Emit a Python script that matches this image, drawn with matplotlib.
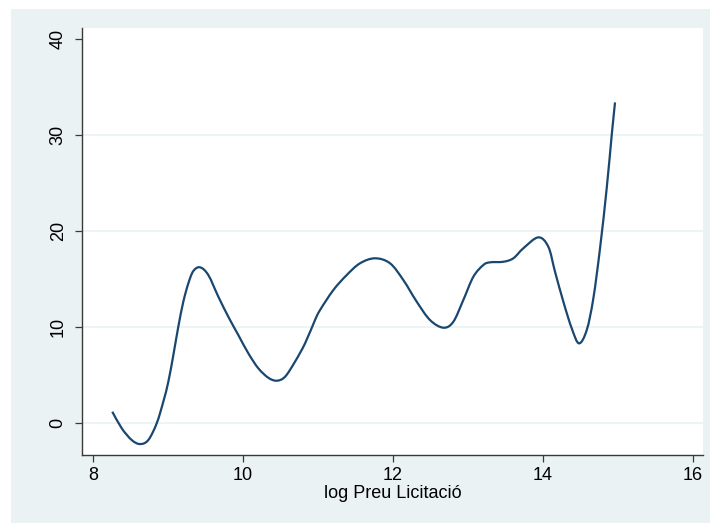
import matplotlib
matplotlib.use("Agg")
import matplotlib.pyplot as plt
from matplotlib.patches import Rectangle, PathPatch
from matplotlib.path import Path

# Data
x_vals = [8.257, 8.383, 8.516, 8.627, 8.737, 8.849, 8.937, 9.004, 9.071, 9.137,
          9.204, 9.271, 9.337, 9.427, 9.537, 9.671, 9.804, 9.937, 10.071, 10.204,
          10.337, 10.449, 10.56, 10.693, 10.827, 10.96, 11.027, 11.204, 11.383,
          11.56, 11.76, 11.96, 12.137, 12.316, 12.493, 12.671, 12.804, 12.937,
          13.071, 13.204, 13.293, 13.471, 13.604, 13.737, 13.937, 14.071, 14.16,
          14.271, 14.383, 14.48, 14.583, 14.671, 14.76, 14.849, 14.916, 14.96]
y_vals = [1.18, -0.55, -1.77, -2.19, -1.77, -0.03, 2.22, 4.30, 7.08, 10.03,
          12.64, 14.55, 15.83, 16.22, 15.42, 13.16, 11.07, 9.17, 7.26, 5.70,
          4.72, 4.41, 4.82, 6.39, 8.30, 10.73, 11.77, 13.85, 15.42,
          16.64, 17.16, 16.64, 14.90, 12.64, 10.73, 9.93, 10.55, 12.81,
          15.24, 16.46, 16.74, 16.80, 17.16, 18.20, 19.34, 18.36, 15.76,
          12.64, 9.86, 8.30, 9.69, 12.99, 18.20, 24.45, 30.0, 33.4]

x_ticks = [8, 10, 12, 14, 16]
y_ticks = [0, 10, 20, 30, 40]
grid_levels = [0, 10, 20, 30]
x_label = "log Preu Licitació"

W, H = 710, 523
bg = "#EAF2F3"
line_c = "#1A476F"
axis_c = "#3a3a3a"

plt.rcParams['font.family'] = ['Liberation Sans', 'DejaVu Sans']

fig = plt.figure(figsize=(W / 100, H / 100), dpi=100, facecolor="white")
fig.add_artist(Rectangle((11 / W, -0.01), (W - 11) / W + 0.01, (H - 9) / H + 0.01,
                         transform=fig.transFigure, facecolor=bg,
                         edgecolor="none", zorder=-5))

left, right, top, bottom = 82, 703, 28, 455
ax = fig.add_axes([left / W, (H - bottom) / H, (right - left) / W, (bottom - top) / H])
ax.set_zorder(1)
ax.set_facecolor("white")

ax.set_xlim(7.853, 16.133)
ax.set_ylim(-3.33, 41.15)

for g in grid_levels:
    ax.axhline(g, color=bg, lw=1.2, zorder=1)

# Smooth curve through the read points (Catmull-Rom rendered as cubic Beziers)
pts = list(zip(x_vals, y_vals))
verts = [pts[0]]
codes = [Path.MOVETO]
n = len(pts)
for i in range(n - 1):
    p0 = pts[i - 1] if i > 0 else pts[i]
    p1 = pts[i]
    p2 = pts[i + 1]
    p3 = pts[i + 2] if i + 2 < n else pts[i + 1]
    c1 = (p1[0] + (p2[0] - p0[0]) / 6, p1[1] + (p2[1] - p0[1]) / 6)
    c2 = (p2[0] - (p3[0] - p1[0]) / 6, p2[1] - (p3[1] - p1[1]) / 6)
    verts += [c1, c2, p2]
    codes += [Path.CURVE4] * 3
ax.add_patch(PathPatch(Path(verts, codes), facecolor="none", edgecolor=line_c,
                       lw=1.6, zorder=3, capstyle="butt", joinstyle="round"))

ax.set_xticks(x_ticks)
ax.set_yticks(y_ticks)
ax.set_yticklabels([str(t) for t in y_ticks], rotation=90, va="center")
ax.tick_params(axis="both", direction="out", length=5, width=0.9, color=axis_c,
               labelsize=13, labelcolor="black")
ax.tick_params(axis="x", pad=4)
ax.tick_params(axis="y", pad=6)

for s in ["top", "right"]:
    ax.spines[s].set_visible(False)
for s in ["left", "bottom"]:
    ax.spines[s].set_color(axis_c)
    ax.spines[s].set_linewidth(1.0)

ax.set_xlabel(x_label, fontsize=13, labelpad=0)

fig.savefig("out.png", dpi=100, facecolor=fig.get_facecolor())
